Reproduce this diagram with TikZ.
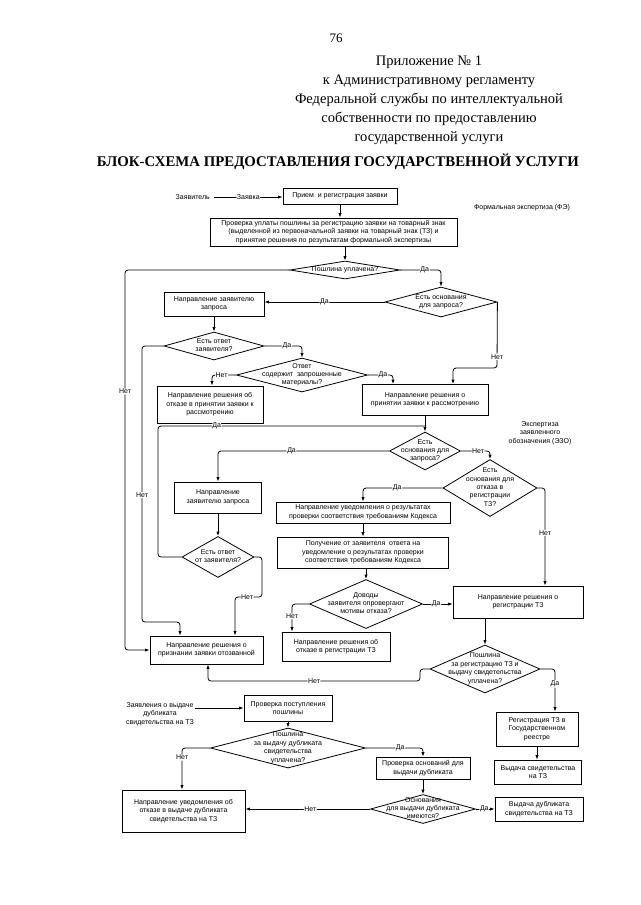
\documentclass[tikz,border=0pt]{standalone}
\usepackage{fontspec}
\setmainfont{Liberation Serif}
\newfontfamily\dsans{Liberation Sans}
\usetikzlibrary{arrows.meta,shapes.geometric}
\newcommand{\dtxt}[1]{\smash{\raisebox{-1.5pt}{\makebox[0pt]{\begin{tabular}{@{}c@{}}#1\end{tabular}}}}}
\begin{document}
\begin{tikzpicture}[x=1pt,y=-1pt,
  df/.style={font=\dsans\fontsize{7}{8.4}\selectfont},
  box/.style={draw, df, line width=0.8pt, align=center, inner sep=0.5pt},
  dia/.style={draw, df, shape=diamond, line width=0.8pt, inner sep=0pt},
  txt/.style={df, align=center, inner sep=1pt},
  lbl/.style={df, fill=white, inner sep=0.6pt},
  line/.style={draw, line width=0.8pt, rounded corners=3pt},
  arr/.style={line, -{Latex[length=4.5pt,width=3.2pt]}},
]
\useasboundingbox (0,0) rectangle (640,905);
\fill[white] (0,0) rectangle (640,905);

% header
\node[font=\fontsize{13}{15}\selectfont] (pg) at (336,38) {76};
\node[align=center, font=\fontsize{14.5}{19}\selectfont, anchor=north] (annex) at (429,52)
  {Приложение № 1\\к Административному регламенту\\Федеральной службы по интеллектуальной\\собственности по предоставлению\\государственной услуги};
\node[font=\bfseries\fontsize{14.8}{18}\selectfont] (title) at (338,162) {БЛОК-СХЕМА ПРЕДОСТАВЛЕНИЯ ГОСУДАРСТВЕННОЙ УСЛУГИ};

% nodes
\node[txt, anchor=east, inner sep=4pt] (app) at (214,197) {Заявитель};
\node[box, minimum width=114pt, minimum height=16pt] (recv) at (340,196) {Прием~ и регистрация заявки};
\node[txt] (fe) at (522,208) {Формальная экспертиза (ФЭ)};
\node[box, minimum width=247pt, minimum height=28pt] (check) at (333.5,232) {Проверка уплаты пошлины за регистрацию заявки на товарный знак\\(выделенной из первоначальной заявки на товарный знак (ТЗ) и\\принятие решения по результатам формальной экспертизы};
\node[dia, minimum width=110pt, minimum height=18pt] (d1) at (345,270) {\dtxt{Пошлина уплачена?}};
\node[dia, minimum width=112pt, minimum height=30pt] (d2) at (441,302) {\dtxt{Есть основания\\для запроса?}};
\node[box, minimum width=100pt, minimum height=24pt] (req1) at (214,304) {Направление заявителю\\запроса};
\node[dia, minimum width=100pt, minimum height=28pt] (d3) at (214,346) {\dtxt{Есть ответ\\заявителя?}};
\node[dia, minimum width=131pt, minimum height=34pt] (d4) at (302,375) {\dtxt{Ответ\\содержит~ запрошенные\\материалы?}};
\node[box, minimum width=106pt, minimum height=37pt] (refuse1) at (210,404.5) {Направление решения об\\отказе в принятии заявки к\\рассмотрению};
\node[box, minimum width=126pt, minimum height=31pt] (accept) at (425,400) {Направление решения о\\принятии заявки к рассмотрению};
\node[txt] (ezo) at (540,433) {Экспертиза\\заявленного\\обозначения (ЭЗО)};
\node[dia, minimum width=71pt, minimum height=38pt] (d5) at (425,451) {\dtxt{Есть\\основания для\\запроса?}};
\node[dia, minimum width=94pt, minimum height=57pt] (d6) at (490,488) {\dtxt{Есть\\основания для\\отказа в\\регистрации\\ТЗ?}};
\node[box, minimum width=87pt, minimum height=31pt] (req2) at (218,497.5) {Направление\\заявителю запроса};
\node[box, minimum width=174pt, minimum height=21pt] (notify) at (363,512.5) {Направление уведомления о результатах\\проверки соответствия требованиям Кодекса};
\node[dia, minimum width=72pt, minimum height=41pt] (d7) at (218,557) {\dtxt{Есть ответ\\от заявителя?}};
\node[box, minimum width=171pt, minimum height=31pt] (receive) at (363,552.5) {Получение от заявителя~ ответа на\\уведомление о результатах проверки\\соответствия требованиям Кодекса};
\node[dia, minimum width=113pt, minimum height=49pt] (d8) at (366,604) {\dtxt{Доводы\\заявителя опровергают\\мотивы отказа?}};
\node[box, minimum width=130pt, minimum height=32pt] (regdec) at (518,602) {Направление решения о\\регистрации ТЗ};
\node[box, minimum width=113pt, minimum height=28pt] (withdrawn) at (206.5,650) {Направление решения о\\признании заявки отозванной};
\node[box, minimum width=108pt, minimum height=29pt] (refuse2) at (336,646.5) {Направление решения об\\отказе в регистрации ТЗ};
\node[dia, minimum width=110pt, minimum height=48pt] (d9) at (485,669) {\dtxt{Пошлина\\за регистрацию ТЗ и\\выдачу свидетельства\\уплачена?}};
\node[box, minimum width=82pt, minimum height=34pt] (registry) at (537,729) {Регистрация ТЗ в\\Государственном\\реестре};
\node[box, minimum width=87pt, minimum height=24pt] (issue) at (538,772) {Выдача свидетельства\\на ТЗ};
\node[txt] (dupl) at (160,714) {Заявления о выдаче\\дубликата\\свидетельства на ТЗ};
\node[box, minimum width=88pt, minimum height=26pt] (feecheck) at (288,708) {Проверка поступления\\пошлины};
\node[dia, minimum width=155pt, minimum height=40pt] (d10) at (288,748) {\dtxt{Пошлина\\за выдачу дубликата\\свидетельства\\уплачена?}};
\node[box, minimum width=94pt, minimum height=22pt] (dupcheck) at (423,768) {Проверка оснований для\\выдачи дубликата};
\node[dia, minimum width=105pt, minimum height=29pt] (d11) at (423,809) {\dtxt{Основания\\для выдачи дубликата\\имеются?}};
\node[box, minimum width=88pt, minimum height=24pt] (dupissue) at (539,809) {Выдача дубликата\\свидетельства на ТЗ};
\node[box, minimum width=123pt, minimum height=42pt] (refuse3) at (183.5,811) {Направление уведомления об\\отказе в выдаче дубликата\\свидетельства на ТЗ};

% routing points
\coordinate (xL1) at (125,0);
\coordinate (c2a) at (497,368);
\coordinate (c2b) at (453,368);
\coordinate (c3a) at (142,622);
\coordinate (c3b) at (180,622);
\coordinate (c4) at (212,0);
\coordinate (c5) at (393,0);
\coordinate (c7a) at (158,0);
\coordinate (c7b) at (425,426);
\coordinate (c6) at (545,0);
\coordinate (c8a) at (262,597);
\coordinate (c8b) at (235,597);
\coordinate (c9) at (292,0);
\coordinate (c10a) at (420,0);
\coordinate (c10b) at (208,681);
\coordinate (c11) at (555,0);
\coordinate (c12) at (182,0);

% connectors
\draw[arr] (app.east) -- node[lbl]{Заявка} (app.east -| recv.west);
\draw[arr] (recv.south) -- (recv.south |- check.north);
\draw[arr] (d1.north |- check.south) -- (d1.north);
\draw[arr] (d1.east) -- node[lbl,pos=0.6]{Да} (d1.east -| d2.north) -- (d2.north);
\draw[arr] (d1.west) -- (d1.west -| xL1) -- node[lbl,pos=0.32]{Нет} (xL1 |- withdrawn.west) -- (withdrawn.west);
\draw[arr] (d2.west) -- node[lbl]{Да} (d2.west -| req1.east);
\draw[arr] (d2.east) -- node[lbl,pos=0.83]{Нет} (c2a) -- (c2b) -- (c2b |- accept.north);
\draw[arr] (req1.south) -- (d3.north);
\draw[arr] (d3.east) -- node[lbl,pos=0.6]{Да} (d3.east -| d4.north) -- (d4.north);
\draw[arr] (d3.west) -- (d3.west -| c3a) -- node[lbl,pos=0.54]{Нет} (c3a) -- (c3b) -- (c3b |- withdrawn.north);
\draw[arr] (d4.west) -- node[lbl,pos=0.6]{Нет} (d4.west -| c4) -- (c4 |- refuse1.north);
\draw[arr] (d4.east) -- node[lbl,pos=0.6]{Да} (d4.east -| c5) -- (c5 |- accept.north);
\draw[arr] (accept.south) -- (d5.north);
\draw[line] (d7.west) -- (d7.west -| c7a) -- (c7a |- c7b) -- node[lbl,pos=0.22]{Да} (c7b);
\draw[arr] (d5.west) -- node[lbl,pos=0.57]{Да} (d5.west -| req2.north) -- (req2.north);
\draw[arr] (d5.east) -- node[lbl,pos=0.59]{Нет} (d5.east -| d6.north) -- (d6.north);
\draw[arr] (d6.west) -- node[lbl,pos=0.57]{Да} (d6.west -| notify.north) -- (notify.north);
\draw[arr] (d6.east) -- (d6.east -| c6) -- node[lbl,pos=0.46]{Нет} (c6 |- regdec.north);
\draw[arr] (req2.south) -- (d7.north);
\draw[arr] (d7.east) -- (d7.east -| c8a) -- (c8a) -- node[lbl,pos=0.55]{Нет} (c8b) -- (c8b |- withdrawn.north);
\draw[arr] (notify.south) -- (receive.north);
\draw[arr] (d8.north |- receive.south) -- (d8.north);
\draw[arr] (d8.west) -- (d8.west -| c9) -- node[lbl,pos=0.45]{Нет} (c9 |- refuse2.north);
\draw[arr] (d8.east) -- node[lbl,pos=0.45]{Да} (d8.east -| regdec.west);
\draw[arr] (d9.north |- regdec.south) -- (d9.north);
\draw[arr] (d9.west) -- (d9.west -| c10a) -- (c10a |- c10b) -- node[lbl,pos=0.5]{Нет} (c10b) -- (c10b |- withdrawn.south);
\draw[arr] (d9.east) -- (d9.east -| c11) -- node[lbl,pos=0.35]{Да} (c11 |- registry.north);
\draw[arr] (registry.south) -- (registry.south |- issue.north);
\draw[arr] (dupl.east |- feecheck.west) -- (feecheck.west);
\draw[arr] (feecheck.south) -- (d10.north);
\draw[arr] (d10.west) -- (d10.west -| c12) -- node[lbl,pos=0.23]{Нет} (c12 |- refuse3.north);
\draw[arr] (d10.east) -- node[lbl,pos=0.6]{Да} (d10.east -| dupcheck.north) -- (dupcheck.north);
\draw[arr] (dupcheck.south) -- (d11.north);
\draw[arr] (d11.east) -- node[lbl,pos=0.45]{Да} (d11.east -| dupissue.west);
\draw[arr] (d11.west) -- node[lbl,pos=0.48]{Нет} (d11.west -| refuse3.east);
\end{tikzpicture}
\end{document}
